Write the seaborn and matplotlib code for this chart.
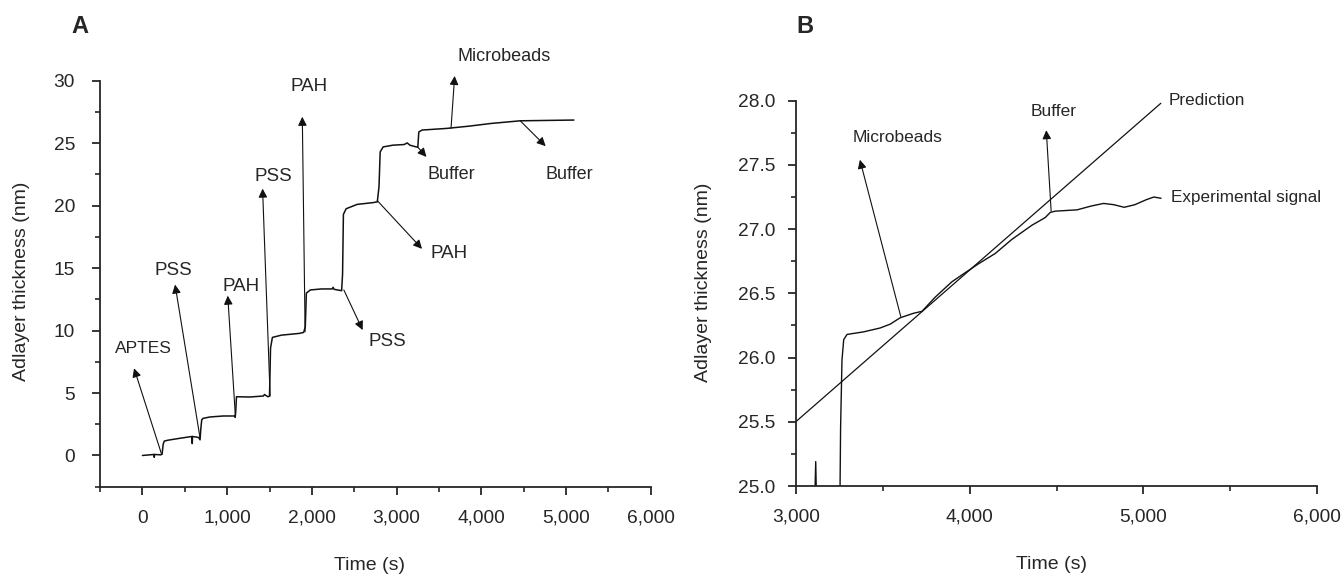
import matplotlib
matplotlib.use("Agg")
import numpy as np
import pandas as pd
import seaborn as sns
import matplotlib.pyplot as plt
from matplotlib.ticker import MultipleLocator, FuncFormatter

# ---------------- data ----------------
# Panel A: adlayer build-up
timeA = [0, 137, 140, 143, 216, 232, 245, 258, 300, 427, 585, 588, 591, 664, 680, 690, 700, 716,
         796, 954, 1086, 1095, 1102, 1110, 1270, 1428, 1440, 1481, 1500, 1512, 1534, 1639, 1850,
         1903, 1922, 1935, 1982, 2113, 2240, 2250, 2262, 2351, 2362, 2372, 2404, 2535, 2720, 2772,
         2792, 2806, 2841, 2957, 3089, 3125, 3156, 3231, 3250, 3262, 3300, 3589, 3853, 4116, 4459, 5092]
thickA = [0.0, 0.08, -0.15, 0.08, 0.05, 0.1, 0.9, 1.15, 1.22, 1.36, 1.52, 0.95, 1.52, 1.44, 1.25, 2.2, 2.85, 2.97,
          3.08, 3.16, 3.16, 3.05, 3.6, 4.7, 4.68, 4.76, 4.88, 4.7, 4.75, 8.6, 9.45, 9.63, 9.77,
          9.85, 10.3, 13.0, 13.25, 13.33, 13.33, 13.46, 13.3, 13.19, 14.5, 19.3, 19.75, 20.1, 20.24, 20.3,
          21.5, 24.3, 24.7, 24.84, 24.89, 25.02, 24.84, 24.7, 24.68, 25.9, 26.05, 26.18, 26.36, 26.58, 26.79, 26.85]

# Panel B: zoom on the microbead step
timeB = [3000, 3106, 3115, 3122, 3253, 3258, 3266, 3276, 3295, 3390, 3485, 3543, 3601, 3678, 3726,
         3802, 3898, 3974, 4051, 4147, 4243, 4358, 4435, 4464, 4493, 4618, 4700, 4771, 4830, 4889,
         4950, 5018, 5060, 5101]
thickB = [24.70, 24.70, 25.19, 24.70, 24.70, 25.45, 25.98, 26.14, 26.18, 26.20, 26.23, 26.26, 26.31,
          26.345, 26.36, 26.47, 26.59, 26.66, 26.73, 26.81, 26.92, 27.03, 27.09, 27.13, 27.14, 27.15,
          27.18, 27.20, 27.19, 27.17, 27.19, 27.23, 27.25, 27.24]
pred_t = [3000, 5100]
pred_y = [25.50, 27.98]

# Annotations: label, arrow tail (on curve), arrow tip
annA_labels = ["APTES", "PSS", "PAH", "PSS", "PAH", "PSS", "PAH", "Buffer", "Microbeads", "Buffer"]
annA_tail = [(227, 0.08), (680, 1.41), (1097, 3.16), (1507, 4.76), (1920, 9.9), (2377, 13.25),
             (2772, 20.4), (3247, 24.7), (3642, 26.18), (4459, 26.79)]
annA_tip = [(-99, 6.98), (385, 13.68), (1007, 12.79), (1418, 21.36), (1887, 27.11), (2599, 10.04),
            (3300, 16.54), (3352, 23.9), (3685, 30.38), (4759, 24.76)]
annA_textpos = [(14, 8.54), (368, 14.84), (1159, 13.53), (1542, 22.35), (1967, 29.5), (2896, 9.14),
                (3620, 16.14), (3651, 22.51), (4267, 31.93), (5037, 22.51)]
annA_size = [12.5, 13.5, 13.5, 13.5, 13.5, 13.5, 13.5, 13, 13, 13]

annB_labels = ["Microbeads", "Buffer"]
annB_tail = [(3604, 26.32), (4469, 27.14)]
annB_tip = [(3369, 27.54), (4441, 27.77)]
annB_textpos = [(3585, 27.714), (4485, 27.913)]

# ---------------- style ----------------
sns.set_style("ticks")
plt.rcParams["font.family"] = ["Liberation Sans", "DejaVu Sans"]
plt.rcParams["axes.linewidth"] = 1.3

fig = plt.figure(figsize=(13.43, 5.74), dpi=100)
axA = fig.add_axes([0.0745, 0.1521, 0.4101, 0.7073])
axB = fig.add_axes([0.5925, 0.1533, 0.3884, 0.6713])

dfA = pd.DataFrame({"t": timeA, "y": thickA})
dfB = pd.DataFrame({"t": timeB, "y": thickB})
dfP = pd.DataFrame({"t": pred_t, "y": pred_y})

sns.lineplot(data=dfA, x="t", y="y", ax=axA, sort=False, estimator=None, color="#111111", lw=1.1)
sns.lineplot(data=dfB, x="t", y="y", ax=axB, sort=False, estimator=None, color="#111111", lw=1.0)
sns.lineplot(data=dfP, x="t", y="y", ax=axB, sort=False, estimator=None, color="#111111", lw=0.9)

thousands = FuncFormatter(lambda v, p: f"{int(round(v)):,}")

# Panel A axes
axA.set_xlim(-500, 6000)
axA.set_ylim(-2.5, 30)
axA.xaxis.set_major_locator(MultipleLocator(1000))
axA.xaxis.set_minor_locator(MultipleLocator(500))
axA.yaxis.set_major_locator(MultipleLocator(5))
axA.yaxis.set_minor_locator(MultipleLocator(2.5))
axA.xaxis.set_major_formatter(thousands)
axA.set_xticks([0, 1000, 2000, 3000, 4000, 5000, 6000])
axA.tick_params(axis="x", which="major", length=6, width=1.3, pad=10.5, labelsize=13.8)
axA.tick_params(axis="y", which="major", length=6, width=1.3, pad=12, labelsize=13.8)
axA.tick_params(which="minor", length=3.6, width=1.2)

# Panel B axes
axB.set_xlim(3000, 6000)
axB.set_ylim(25.0, 28.0)
axB.xaxis.set_major_locator(MultipleLocator(1000))
axB.xaxis.set_minor_locator(MultipleLocator(500))
axB.yaxis.set_major_locator(MultipleLocator(0.5))
axB.yaxis.set_minor_locator(MultipleLocator(0.25))
axB.xaxis.set_major_formatter(thousands)
axB.yaxis.set_major_formatter(FuncFormatter(lambda v, p: f"{v:.1f}"))
axB.tick_params(axis="x", which="major", length=6, width=1.3, pad=10.5, labelsize=13.8)
axB.tick_params(axis="y", which="major", length=6, width=1.3, pad=9, labelsize=13.8)
axB.tick_params(which="minor", length=3.6, width=1.2)

for ax in (axA, axB):
    sns.despine(ax=ax)
    ax.set_xlabel("Time (s)", fontsize=14, va="center")
    ax.set_ylabel("Adlayer thickness (nm)", fontsize=14, va="center")

axA.xaxis.set_label_coords(0.49, -0.193)
axA.yaxis.set_label_coords(-0.1435, 0.507)
axB.xaxis.set_label_coords(0.49, -0.205)
axB.yaxis.set_label_coords(-0.1777, 0.529)

arrow_kw = dict(arrowstyle="-|>", color="#111111", lw=0.8, mutation_scale=13,
                shrinkA=0, shrinkB=0)

for lab, tail, tip, tp, fs in zip(annA_labels, annA_tail, annA_tip, annA_textpos, annA_size):
    axA.annotate("", xy=tip, xytext=tail, arrowprops=arrow_kw, annotation_clip=False)
    axA.text(tp[0], tp[1], lab, fontsize=fs, ha="center", va="center", clip_on=False)

for lab, tail, tip, tp in zip(annB_labels, annB_tail, annB_tip, annB_textpos):
    axB.annotate("", xy=tip, xytext=tail, arrowprops=arrow_kw, annotation_clip=False)
    axB.text(tp[0], tp[1], lab, fontsize=12.5, ha="center", va="center", clip_on=False)

axB.text(5147, 28.005, "Prediction", fontsize=12.3, ha="left", va="center", clip_on=False)
axB.text(5158, 27.243, "Experimental signal", fontsize=12.3, ha="left", va="center", clip_on=False)

fig.text(0.0596, 0.953, "A", fontsize=17, fontweight="bold", ha="center", va="center")
fig.text(0.5994, 0.953, "B", fontsize=17, fontweight="bold", ha="center", va="center")

fig.savefig("out.png", dpi=100)
